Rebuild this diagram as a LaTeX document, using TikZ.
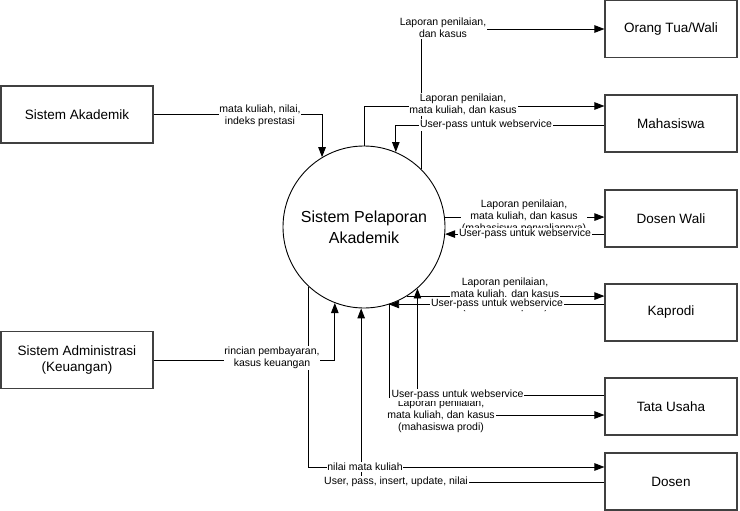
\documentclass[tikz,border=0pt]{standalone}
\usepackage{fontspec}
\setmainfont{Liberation Sans}
\usetikzlibrary{arrows.meta}
\begin{document}
\begin{tikzpicture}[x=1pt,y=-1pt,
  box/.style={draw=black!75, line width=1.1pt, minimum width=132pt, minimum height=57pt, inner sep=0pt, align=center, font=\fontsize{13.5}{15.5}\selectfont},
  lbl/.style={fill=white, inner sep=0.8pt, align=center, font=\fontsize{10.5}{12}\selectfont},
  con/.style={line width=0.9pt},
  arr/.style={con, -{Triangle[length=10pt,width=7.5pt]}},
]
\useasboundingbox (0,0) rectangle (740,511);
\node[circle, draw, line width=0.9pt, minimum size=162pt, inner sep=0pt, align=center, font=\fontsize{16}{21}\selectfont] (C) at (364,227) {Sistem Pelaporan\\Akademik};

\node[box, minimum width=152pt] (sa) at (77,114.5) {Sistem Akademik};
\node[box, minimum width=152pt] (sadm) at (77,360) {Sistem Administrasi\\(Keuangan)};
\node[box] (ortu) at (671,29) {Orang Tua/Wali};
\node[box] (mhs) at (671,123.5) {Mahasiswa};
\node[box] (dw) at (671,218.5) {Dosen Wali};
\node[box] (kap) at (671,312.5) {Kaprodi};
\node[box] (tu) at (671,406.5) {Tata Usaha};
\node[box] (dos) at (671,481.5) {Dosen};

% connectors
\draw[arr] (sa.east) -| (C.121.2);
\draw[arr] (C.45.3) |- (ortu.west);
\draw[arr] (C.north) |- ([yshift=17.5pt]mhs.west);
\draw[arr] ([yshift=-1.5pt]mhs.west) -| (C.67.5);
\draw[arr] (C.7.1) -- (C.7.1 -| dw.west);
\draw[arr] (C.355 -| dw.west) -- (C.355);
\draw[arr] (C.302.9) -- (C.302.9 -| kap.west);
\draw[arr] (C.288.1 -| kap.west) -- (C.288.1);
\draw[arr] ([yshift=11.5pt]tu.west) -| (C.311.8);
\draw[arr] (C.288.7) |- ([yshift=-8.5pt]tu.west);
\draw[arr] (C.227.2) |- ([yshift=14.5pt]dos.west);
\draw[arr] ([yshift=-0.5pt]dos.west) -| (C.268.6);
\draw[arr] (sadm.east) -| (C.249);

% labels
\node[lbl] (lortu) at (443,28) {Laporan penilaian,\\dan kasus};
\node[lbl] (lmhs1) at (463,104.5) {Laporan penilaian,\\mata kuliah, dan kasus};
\node[lbl] (lmhs2) at (486,125) {User-pass untuk webservice};
\node[lbl] (ldw1) at (524,216.5) {Laporan penilaian,\\mata kuliah, dan kasus\\(mahasiswa perwaliannya)};
\node[lbl] (ldw2) at (525,234) {User-pass untuk webservice};
\node[lbl] (lkap1) at (505,295) {Laporan penilaian,\\mata kuliah. dan kasus\\(mahasiswa prodi)};
\node[lbl] (lkap2) at (497,304) {User-pass untuk webservice};
\node[lbl] (ltu1) at (441,416) {Laporan penilaian,\\mata kuliah, dan kasus\\(mahasiswa prodi)};
\node[lbl] (ltu2) at (457.5,395) {User-pass untuk webservice};
\node[lbl] (ldos1) at (365,467) {nilai mata kuliah};
\node[lbl] (ldos2) at (396,482) {User, pass, insert, update, nilai};
\node[lbl] (lsa) at (260,116) {mata kuliah, nilai,\\indeks prestasi};
\node[lbl] (lsadm) at (272,358) {rincian pembayaran,\\kasus keuangan};
\end{tikzpicture}
\end{document}
